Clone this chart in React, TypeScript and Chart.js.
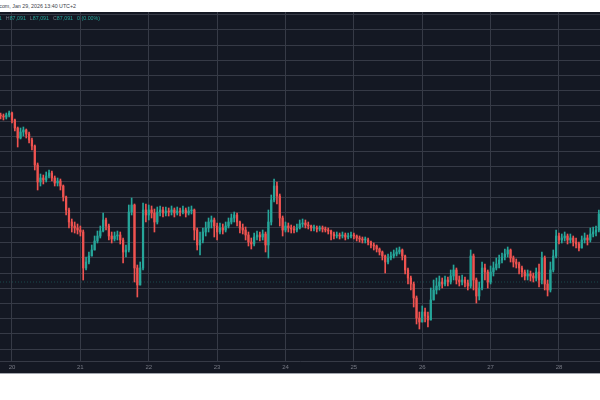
import React, { useEffect, useRef } from "react";
import { Chart, registerables } from "chart.js";

Chart.register(...registerables);

// hourly candles, hour 0 = Jan 20 00:00
const START_HOUR = -4;
const FIRST_OPEN = 90050;
const CLOSES = [
  90020, 89990, 90050, 90110, 89900, 89660, 89360, 89540, 89600, 89480, 89300, 89120, 88550, 88040, 88160, 88100,
  88220, 88310, 88160, 88010, 88070, 87920, 87590, 87200, 86840, 86720, 86660, 86600, 86540, 85460, 85640, 85820,
  86000, 86270, 86420, 86570, 86900, 86720, 86420, 86330, 86420, 86450, 86300, 85940, 86000, 87140, 87350, 85460,
  84950, 85460, 87200, 87050, 87200, 87110, 86840, 87140, 87200, 87110, 87170, 87140, 87200, 87110, 87170, 87140,
  87200, 87110, 87170, 87200, 86600, 86150, 86300, 86540, 86660, 86840, 86900, 86720, 86540, 86660, 86600, 86720,
  86840, 86960, 87050, 86840, 86660, 86600, 86450, 86240, 86180, 86390, 86450, 86390, 86480, 86150, 86840, 87500,
  87920, 87620, 86960, 86600, 86720, 86660, 86630, 86600, 86660, 86780, 86810, 86750, 86720, 86660, 86660, 86630,
  86660, 86630, 86600, 86570, 86480, 86420, 86450, 86420, 86450, 86390, 86420, 86450, 86420, 86360, 86330, 86300,
  86300, 86240, 86150, 86120, 86030, 85940, 85820, 85640, 85760, 85820, 85880, 85940, 86000, 85820, 85400, 85160,
  84980, 84560, 83960, 83840, 84140, 84020, 83900, 84500, 84800, 84920, 85040, 84980, 85100, 85040, 85220, 85400,
  85100, 85040, 85100, 85010, 84920, 85820, 85100, 84620, 84860, 85460, 85340, 85040, 85340, 85460, 85580, 85700,
  85790, 85880, 86000, 85760, 85640, 85580, 85460, 85340, 85220, 85280, 85220, 85160, 85340, 85100, 85760, 84980,
  84800, 85400, 85820, 86420, 86300, 86360, 86420, 86300, 86360, 86240, 86180, 86060, 86300, 86360, 86300, 86480,
  86540, 86600, 87080,
];
const HIGHS = [
  90110, 90080, 90110, 90170, 90140, 89930, 89690, 89660, 89690, 89630, 89540, 89360, 89150, 88610, 88280, 88250,
  88340, 88400, 88370, 88220, 88160, 88130, 87950, 87620, 87260, 86930, 86840, 86780, 86720, 86600, 85790, 85940,
  86150, 86420, 86570, 86720, 87110, 86960, 86780, 86540, 86540, 86570, 86540, 86360, 86150, 87350, 87560, 87380,
  85550, 85640, 87410, 87380, 87350, 87320, 87230, 87290, 87320, 87290, 87290, 87260, 87320, 87260, 87290, 87260,
  87320, 87260, 87290, 87320, 87230, 86660, 86540, 86660, 86840, 86960, 87020, 86960, 86810, 86810, 86780, 86840,
  86960, 87080, 87140, 87110, 86870, 86780, 86690, 86540, 86360, 86510, 86570, 86540, 86600, 86540, 87200, 87650,
  88130, 88040, 87680, 87020, 86840, 86810, 86750, 86720, 86780, 86900, 86930, 86900, 86840, 86750, 86750, 86720,
  86720, 86720, 86690, 86660, 86600, 86540, 86540, 86510, 86540, 86510, 86510, 86540, 86510, 86450, 86420, 86390,
  86390, 86360, 86270, 86210, 86150, 86060, 85970, 85850, 85880, 85940, 86000, 86060, 86090, 86030, 85850, 85460,
  85220, 85040, 84620, 84140, 84320, 84260, 84140, 84860, 85100, 85160, 85220, 85160, 85220, 85190, 85400, 85550,
  85460, 85220, 85250, 85190, 85100, 86000, 85880, 85160, 85040, 85640, 85580, 85400, 85520, 85640, 85760, 85850,
  85910, 86030, 86090, 86030, 85820, 85730, 85640, 85520, 85400, 85400, 85370, 85310, 85460, 85580, 85940, 85820,
  85100, 85640, 86000, 86600, 86510, 86480, 86540, 86480, 86480, 86420, 86360, 86240, 86420, 86510, 86450, 86660,
  86690, 86720, 87200,
];
const LOWS = [
  89930, 89900, 89930, 89990, 89810, 89570, 89090, 89330, 89420, 89360, 89210, 89000, 88400, 87800, 87920, 87980,
  88040, 88160, 88070, 87920, 87920, 87800, 87470, 87050, 86660, 86540, 86510, 86480, 86420, 85100, 85400, 85580,
  85820, 86000, 86210, 86360, 86540, 86600, 86300, 86210, 86270, 86300, 86180, 85610, 85790, 85940, 87050, 85040,
  84590, 85040, 85400, 86840, 86900, 86960, 86540, 86780, 87020, 86990, 87020, 87020, 87050, 86990, 87050, 87020,
  87080, 86990, 87050, 87080, 86300, 86000, 85850, 86210, 86420, 86540, 86660, 86390, 86300, 86480, 86480, 86540,
  86660, 86780, 86840, 86720, 86510, 86480, 86300, 86120, 86030, 86120, 86300, 86270, 86300, 85940, 85760, 86750,
  87440, 87380, 86720, 86420, 86540, 86540, 86510, 86510, 86540, 86630, 86690, 86660, 86630, 86570, 86570, 86540,
  86570, 86540, 86540, 86480, 86300, 86330, 86360, 86330, 86360, 86300, 86330, 86360, 86330, 86270, 86240, 86210,
  86210, 86150, 86060, 86000, 85940, 85850, 85700, 85310, 85580, 85700, 85760, 85820, 85880, 85700, 85280, 84980,
  84800, 84290, 83780, 83630, 83900, 83840, 83690, 83960, 84500, 84680, 84800, 84860, 84920, 84920, 84980, 85100,
  84980, 84920, 84950, 84890, 84800, 84860, 84800, 84410, 84500, 84800, 85100, 84860, 84980, 85220, 85400, 85460,
  85610, 85700, 85790, 85640, 85490, 85460, 85280, 85190, 85100, 85100, 85070, 85040, 85070, 84890, 84980, 84800,
  84620, 84740, 85340, 85760, 86180, 86210, 86270, 86180, 86210, 86120, 86060, 85970, 86090, 86210, 86150, 86240,
  86390, 86420, 86540,
];

const DAY_HOURS = [0, 24, 48, 72, 96, 120, 144, 168, 192];
const DAY_LABELS = ["20", "21", "22", "23", "24", "25", "26", "27", "28"];

const GRID_TOP = 93059;
const GRID_STEP = 456;
const GRID_COUNT = 23;
const PRICE_LINE = 85040;

const Y_MIN = 82670;
const Y_MAX = 93140;
const X_MIN = -4.21;
const X_MAX = 206.4;

const HEADER_TEXT = "TradingView.com, Jan 29, 2026 13:40 UTC+2";
const OHLC_KEYS = ["O", "H", "L", "C"];
const OHLC_VALUES = ["87,091", "87,091", "87,091", "87,091"];
const CHANGE_TEXT = "0 (0.00%)";

const UP = "#26a69a";
const DOWN = "#ef5350";
const BG = "#141823";
const GRID = "#363a46";
const FONT = "'Liberation Sans', Arial, sans-serif";

export default function App() {
  const ref = useRef<HTMLCanvasElement | null>(null);

  useEffect(() => {
    if (!ref.current) return;
    const hours = CLOSES.map((_, i) => START_HOUR + i);
    const opens = CLOSES.map((c, i) => (i === 0 ? FIRST_OPEN : CLOSES[i - 1]));
    const colors = CLOSES.map((c, i) => (c >= opens[i] ? UP : DOWN));
    const wickData = hours.map((h, i) => ({
      x: h,
      y: [Math.min(LOWS[i], opens[i], CLOSES[i]), Math.max(HIGHS[i], opens[i], CLOSES[i])],
    }));
    const bodyData = hours.map((h, i) => ({ x: h, y: [opens[i], CLOSES[i]] }));
    const gridValues = Array.from({ length: GRID_COUNT }, (_, k) => GRID_TOP - k * GRID_STEP);

    const chart = new Chart(ref.current, {
      type: "bar",
      data: {
        datasets: [
          {
            type: "line",
            data: [
              { x: X_MIN, y: PRICE_LINE },
              { x: X_MAX, y: PRICE_LINE },
            ],
            borderColor: "rgba(38,166,154,0.35)",
            borderWidth: 1,
            borderDash: [1, 2],
            pointRadius: 0,
            order: 3,
          } as any,
          {
            data: wickData as any,
            backgroundColor: colors,
            barThickness: 1,
            grouped: false,
            order: 2,
          },
          {
            data: bodyData as any,
            backgroundColor: colors,
            barThickness: 1.6,
            minBarLength: 1,
            grouped: false,
            order: 1,
          },
        ],
      },
      options: {
        animation: false,
        responsive: false,
        maintainAspectRatio: false,
        layout: { padding: 0 },
        plugins: { legend: { display: false }, tooltip: { enabled: false } },
        scales: {
          x: {
            type: "linear",
            min: X_MIN,
            max: X_MAX,
            offset: false,
            grid: { color: GRID, drawTicks: false, lineWidth: 1, offset: false },
            border: { display: true, color: GRID },
            ticks: {
              color: "#787b86",
              font: { size: 6, family: FONT },
              padding: 3,
              maxRotation: 0,
              autoSkip: false,
              callback: (v: any) => {
                const idx = DAY_HOURS.indexOf(Number(v));
                return idx >= 0 ? DAY_LABELS[idx] : "";
              },
            },
            afterBuildTicks: (s: any) => {
              s.ticks = DAY_HOURS.map((v) => ({ value: v }));
            },
            afterFit: (s: any) => {
              s.height = 12;
            },
          },
          y: {
            min: Y_MIN,
            max: Y_MAX,
            grid: { color: GRID, drawTicks: false, lineWidth: 1 },
            border: { display: false },
            ticks: { display: false },
            afterBuildTicks: (s: any) => {
              s.ticks = gridValues.map((v) => ({ value: v }));
            },
            afterFit: (s: any) => {
              s.width = 0;
            },
          },
        },
      },
    });
    return () => chart.destroy();
  }, []);

  return (
    <div
      style={{
        position: "absolute",
        left: 0,
        top: 0,
        width: 600,
        height: 400,
        background: "#ffffff",
        overflow: "hidden",
        fontFamily: FONT,
      }}
    >
      <div style={{ position: "absolute", left: 0, top: 0, width: 600, height: 12, overflow: "hidden" }}>
        <span
          style={{
            position: "absolute",
            right: 524,
            top: 3,
            fontSize: 5.3,
            lineHeight: "6px",
            color: "#3a3e48",
            whiteSpace: "nowrap",
          }}
        >
          {HEADER_TEXT}
        </span>
      </div>
      <div style={{ position: "absolute", left: 0, top: 12, width: 600, height: 361, background: BG }}>
        <canvas ref={ref} width={600} height={361} style={{ display: "block", width: 600, height: 361 }} />
        <div style={{ position: "absolute", left: 0, top: 3, width: 600, height: 8, overflow: "hidden" }}>
          <span
            style={{
              position: "absolute",
              right: 500,
              top: 0,
              fontSize: 5.3,
              lineHeight: "7px",
              whiteSpace: "nowrap",
              color: UP,
            }}
          >
            {OHLC_KEYS.map((k, i) => (
              <span key={k} style={{ marginRight: 4 }}>
                <span style={{ color: "#787b86" }}>{k}</span>
                {OHLC_VALUES[i]}
              </span>
            ))}
            <span>{CHANGE_TEXT}</span>
          </span>
        </div>
      </div>
      <div style={{ position: "absolute", left: 0, top: 373, width: 600, height: 1, background: "#a3a6ae" }} />
    </div>
  );
}
